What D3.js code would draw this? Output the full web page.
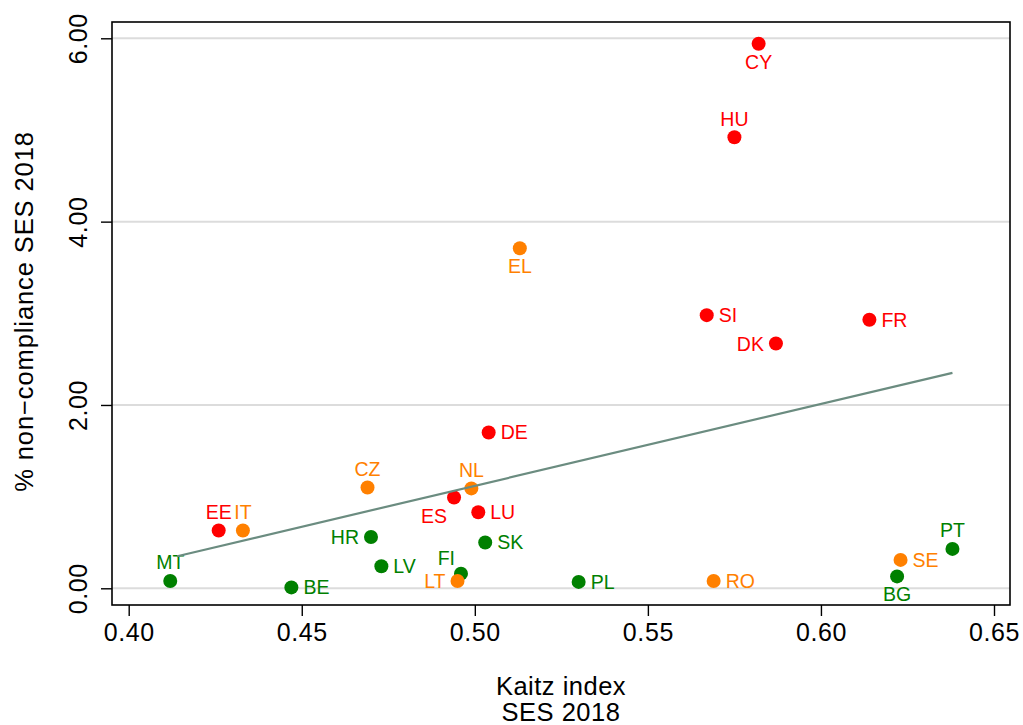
<!DOCTYPE html>
<html>
<head>
<meta charset="utf-8">
<script src="https://cdn.jsdelivr.net/npm/d3@7"></script>
<style>
  html, body { margin: 0; padding: 0; background: #fff; }
  svg { display: block; font-family: "Liberation Sans", Arial, Helvetica, sans-serif; }
</style>
</head>
<body>
<svg id="chart" width="1023" height="725"></svg>
<script>
// ---- data ----
const countries = ["CY","HU","SI","DK","FR","EL","DE","NL","ES","LU","SK","FI","LT","PL","RO","EE","IT","MT","BE","HR","LV","CZ","PT","SE","BG"];
const kaitz     = [0.582,0.575,0.567,0.587,0.614,0.513,0.504,0.499,0.494,0.501,0.503,0.496,0.495,0.530,0.569,0.426,0.433,0.412,0.447,0.470,0.473,0.469,0.638,0.623,0.622];
const nonCompl  = [5.94,4.92,2.98,2.67,2.93,3.71,1.70,1.09,0.99,0.83,0.50,0.16,0.08,0.07,0.08,0.63,0.63,0.08,0.01,0.56,0.24,1.10,0.43,0.31,0.13];
const group     = ["high","high","high","high","high","mid","high","mid","high","high","low","low","mid","low","mid","high","mid","low","low","low","low","mid","low","mid","low"];
// marker-label placement (clock position, as in the original)
const labelClock = [6,12,3,9,3,6,3,12,7,3,3,11,9,3,3,12,12,12,3,9,3,12,12,3,6];
// linear fit line endpoints
const fitX = [0.414, 0.638];
const fitY = [0.35, 2.35];
// ticks
const xTicks = [0.40,0.45,0.50,0.55,0.60,0.65];
const yTicks = [0,2,4,6];
const xTitle = ["Kaitz index","SES 2018"];
const yTitle = "% non\u2212compliance SES 2018";

const colors = { high: "#ff0000", mid: "#ff8000", low: "#008000" };

// ---- layout ----
const svg = d3.select("#chart");
const frame = { left: 112, right: 1010, top: 22, bottom: 605 };
const x = d3.scaleLinear().domain([0.40, 0.65]).range([128.7, 994]);
const y = d3.scaleLinear().domain([0, 6]).range([588.3, 38.3]);

// gridlines
svg.append("g").selectAll("line").data(yTicks).join("line")
  .attr("x1", frame.left).attr("x2", frame.right)
  .attr("y1", d => y(d)).attr("y2", d => y(d))
  .attr("stroke", "#dcdcdc").attr("stroke-width", 2);

// frame
svg.append("rect")
  .attr("x", frame.left).attr("y", frame.top)
  .attr("width", frame.right - frame.left).attr("height", frame.bottom - frame.top)
  .attr("fill", "none").attr("stroke", "#000").attr("stroke-width", 1.6);

// x axis
const xAxis = d3.axisBottom(x).tickValues(xTicks).tickFormat(d3.format(".2f")).tickSize(11).tickPadding(7);
const gx = svg.append("g").attr("transform", `translate(0,${frame.bottom})`).call(xAxis);
gx.select(".domain").remove();
gx.selectAll(".tick line").attr("stroke", "#000").attr("stroke-width", 1.4);
gx.selectAll(".tick text").attr("font-size", 25).attr("letter-spacing", 0.6).attr("fill", "#000")
  .attr("font-family", "Liberation Sans, Arial, sans-serif").attr("dy", "0.71em");

// y axis
const yAxis = d3.axisLeft(y).tickValues(yTicks).tickFormat(d3.format(".2f")).tickSize(11).tickPadding(0);
const gy = svg.append("g").attr("transform", `translate(${frame.left},0)`).call(yAxis);
gy.select(".domain").remove();
gy.selectAll(".tick line").attr("stroke", "#000").attr("stroke-width", 1.4);
gy.selectAll(".tick text")
  .attr("x", null).attr("dy", null)
  .attr("transform", "translate(-25,0) rotate(-90)")
  .attr("text-anchor", "middle")
  .attr("font-size", 25).attr("letter-spacing", 0.6).attr("fill", "#000")
  .attr("font-family", "Liberation Sans, Arial, sans-serif");

// axis titles
svg.append("text").attr("x", 561).attr("y", 695).attr("text-anchor", "middle")
  .attr("font-size", 25.5).attr("letter-spacing", 0.5).text(xTitle[0]);
svg.append("text").attr("x", 561).attr("y", 721).attr("text-anchor", "middle")
  .attr("font-size", 25.5).attr("letter-spacing", 0.5).text(xTitle[1]);
svg.append("text").attr("transform", `translate(33,${(frame.top + frame.bottom) / 2 - 2}) rotate(-90)`)
  .attr("text-anchor", "middle").attr("font-size", 25.5).attr("letter-spacing", 0.9).text(yTitle);

// points
const pts = countries.map((c, i) => ({ c, x: kaitz[i], y: nonCompl[i], g: group[i], pos: labelClock[i] }));
svg.append("g").selectAll("circle").data(pts).join("circle")
  .attr("cx", d => x(d.x)).attr("cy", d => y(d.y)).attr("r", 7)
  .attr("fill", d => colors[d.g]);

// labels
function placement(pos) {
  switch (pos) {
    case 3:  return { dx: 12, dy: 7, anchor: "start" };
    case 9:  return { dx: -12, dy: 7, anchor: "end" };
    case 12: return { dx: 0, dy: -11.5, anchor: "middle" };
    case 6:  return { dx: 0, dy: 25, anchor: "middle" };
    case 7:  return { dx: -7, dy: 25.5, anchor: "end" };
    case 11: return { dx: -6, dy: -9, anchor: "end" };
  }
  return { dx: 12, dy: 7, anchor: "start" };
}
svg.append("g").selectAll("text").data(pts).join("text")
  .attr("x", d => x(d.x) + placement(d.pos).dx)
  .attr("y", d => y(d.y) + placement(d.pos).dy)
  .attr("text-anchor", d => placement(d.pos).anchor)
  .attr("font-size", 19.5)
  .attr("fill", d => colors[d.g])
  .text(d => d.c);

// fit line
svg.append("path")
  .datum(fitX.map((v, i) => [v, fitY[i]]))
  .attr("d", d3.line().x(d => x(d[0])).y(d => y(d[1])))
  .attr("fill", "none").attr("stroke", "#6b8c80").attr("stroke-width", 2.2);
</script>
</body>
</html>
